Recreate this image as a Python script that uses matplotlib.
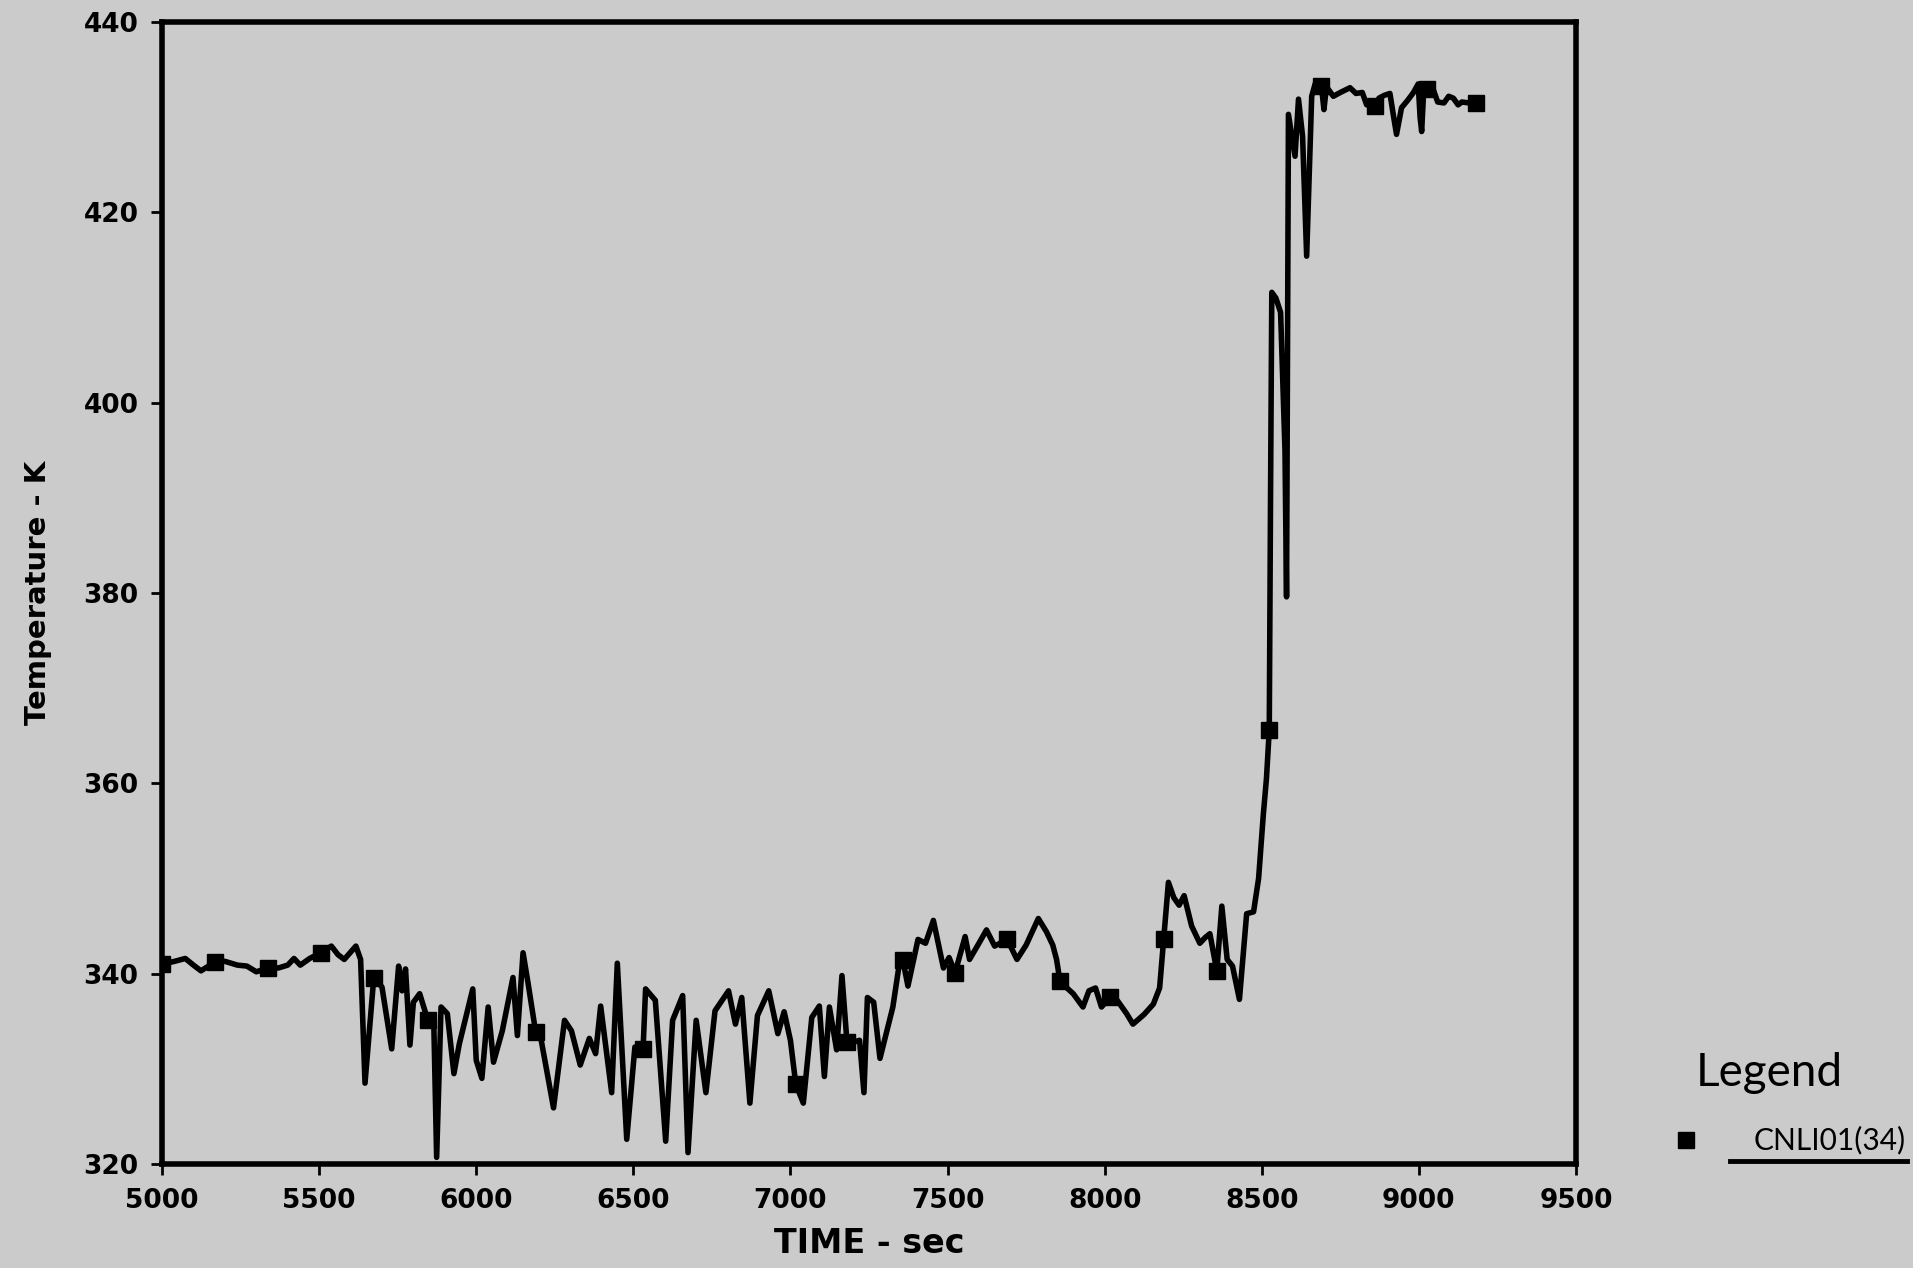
import matplotlib
matplotlib.use("Agg")
from matplotlib import pyplot as plt
from matplotlib.lines import Line2D

# time (sec) and temperature (K)
time_s = [5000, 5040, 5074, 5100, 5124, 5167, 5200, 5240, 5270, 5300,
          5338, 5370, 5400, 5420, 5440, 5470, 5505, 5539, 5560, 5580,
          5617, 5632, 5646, 5674, 5700, 5731, 5753, 5764, 5775, 5789,
          5800, 5820, 5846, 5865, 5874, 5888, 5908, 5929, 5946, 5989,
          6000, 6018, 6038, 6055, 6083, 6117, 6131, 6149, 6165, 6189,
          6203, 6246, 6281, 6303, 6331, 6360, 6380, 6396, 6431, 6449,
          6479, 6505, 6531, 6539, 6570, 6603, 6625, 6657, 6674, 6700,
          6731, 6760, 6803, 6825, 6845, 6871, 6895, 6931, 6960, 6980,
          7000, 7017, 7041, 7068, 7092, 7108, 7124, 7147, 7164, 7180,
          7200, 7220, 7234, 7245, 7265, 7285, 7326, 7350, 7358, 7374,
          7406, 7430, 7455, 7487, 7505, 7524, 7556, 7570, 7600, 7624,
          7650, 7690, 7721, 7750, 7789, 7815, 7835, 7847, 7858, 7880,
          7900, 7931, 7950, 7971, 7990, 8017, 8040, 8070, 8090, 8125,
          8155, 8175, 8188, 8203, 8220, 8237, 8253, 8277, 8303, 8320,
          8335, 8357, 8373, 8390, 8407, 8429, 8452, 8474, 8490, 8505,
          8515, 8524, 8528, 8532, 8545, 8560, 8574, 8579, 8585, 8606,
          8617, 8630, 8643, 8652, 8659, 8670, 8690, 8698, 8706, 8728,
          8750, 8781, 8800, 8820, 8834, 8860, 8873, 8890, 8908, 8920,
          8929, 8945, 8965, 8983, 8998, 9004, 9009, 9015, 9025, 9045,
          9060, 9080, 9095, 9110, 9125, 9137, 9160, 9183]

temp_k = [341.0, 341.3, 341.6, 340.9, 340.3, 341.2, 341.3, 340.9, 340.8, 340.2,
          340.6, 340.6, 340.9, 341.6, 340.9, 341.6, 342.2, 342.9, 342.0, 341.5,
          342.9, 341.5, 328.5, 339.6, 338.6, 332.1, 340.8, 338.2, 340.5, 332.5,
          337.0, 337.9, 335.1, 334.7, 320.7, 336.5, 335.8, 329.5, 332.6, 338.4,
          330.9, 329.0, 336.5, 330.7, 334.0, 339.6, 333.5, 342.2, 339.0, 333.9,
          333.7, 325.9, 335.1, 334.0, 330.4, 333.2, 331.6, 336.6, 327.5, 341.1,
          322.6, 332.3, 332.1, 338.4, 337.2, 322.4, 335.1, 337.7, 321.2, 335.1,
          327.5, 336.1, 338.2, 334.7, 337.5, 326.4, 335.6, 338.2, 333.7, 336.0,
          333.0, 328.4, 326.4, 335.4, 336.6, 329.2, 336.5, 332.0, 339.8, 332.8,
          332.8, 333.0, 327.5, 337.5, 337.0, 331.1, 336.5, 341.8, 341.4, 338.7,
          343.6, 343.2, 345.6, 340.6, 341.7, 340.1, 343.9, 341.5, 343.2, 344.6,
          342.9, 343.6, 341.5, 343.0, 345.8, 344.4, 343.0, 341.5, 339.2, 338.5,
          337.9, 336.5, 338.2, 338.5, 336.5, 337.5, 337.2, 335.8, 334.7, 335.7,
          336.8, 338.5, 343.6, 349.6, 348.0, 347.2, 348.2, 345.0, 343.2, 343.8,
          344.2, 340.3, 347.1, 341.5, 340.8, 337.3, 346.3, 346.5, 350.0, 356.7,
          360.5, 365.6, 390.0, 411.6, 411.0, 409.5, 395.0, 379.6, 430.3, 425.9,
          431.9, 428.0, 415.4, 425.0, 432.2, 433.5, 433.3, 430.8, 433.2, 432.2,
          432.6, 433.1, 432.5, 432.6, 431.3, 431.2, 432.0, 432.3, 432.5, 430.0,
          428.2, 431.0, 431.8, 432.6, 433.5, 430.0, 428.5, 432.5, 433.0, 433.0,
          431.6, 431.5, 432.2, 432.0, 431.3, 431.6, 431.5, 431.5]

# samples that carry the square symbol
marker_times = [5000, 5167, 5338, 5505, 5674, 5846, 6189, 6531,
                7017, 7180, 7358, 7524, 7690, 7858, 8017, 8188, 8357,
                8524, 8690, 8860, 9025, 9183]

x_ticks = [5000, 5500, 6000, 6500, 7000, 7500, 8000, 8500, 9000, 9500]
y_ticks = [320, 340, 360, 380, 400, 420, 440]

series_name = "CNLI01(34)"

BG = "#cbcbcb"


def main():
    fig = plt.figure(figsize=(19.13, 12.68), dpi=100, facecolor=BG)
    ax = fig.add_axes([0.0847, 0.082, 0.7391, 0.9006], facecolor=BG)

    marks = [i for i, t in enumerate(time_s) if t in marker_times]
    ax.plot(time_s, temp_k, color="black", linewidth=4,
            marker="s", markersize=11, markevery=marks,
            solid_joinstyle="round")

    ax.set_xlim(5000, 9500)
    ax.set_ylim(320, 440)
    ax.set_xticks(x_ticks)
    ax.set_yticks(y_ticks)

    for spine in ax.spines.values():
        spine.set_linewidth(4)
    ax.tick_params(direction="out", length=8, width=2, pad=9)
    for lab in ax.get_xticklabels() + ax.get_yticklabels():
        lab.set_fontsize(19)
        lab.set_fontweight("bold")

    ax.set_xlabel("TIME - sec", fontsize=24, fontweight="bold")
    ax.xaxis.set_label_coords(0.5, -0.055)
    ax.set_ylabel("Temperature - K", fontsize=21, fontweight="bold")
    ax.yaxis.set_label_coords(-0.078, 0.5)

    # hand-made legend at the lower right, outside the frame
    fig.text(0.8866, 0.1538, "Legend", fontsize=33, family="Lato",
             ha="left", va="center")
    fig.add_artist(Line2D([0.8814], [0.1010], marker="s", markersize=11,
                          color="black", linestyle="none"))
    fig.text(0.9169, 0.1010, series_name, fontsize=21.5, family="Lato",
             ha="left", va="center")
    fig.add_artist(Line2D([0.9043, 0.9969], [0.0844, 0.0844],
                          color="black", linewidth=3.5))

    fig.savefig("out.png", dpi=100, facecolor=BG)


if __name__ == '__main__':
    main()
